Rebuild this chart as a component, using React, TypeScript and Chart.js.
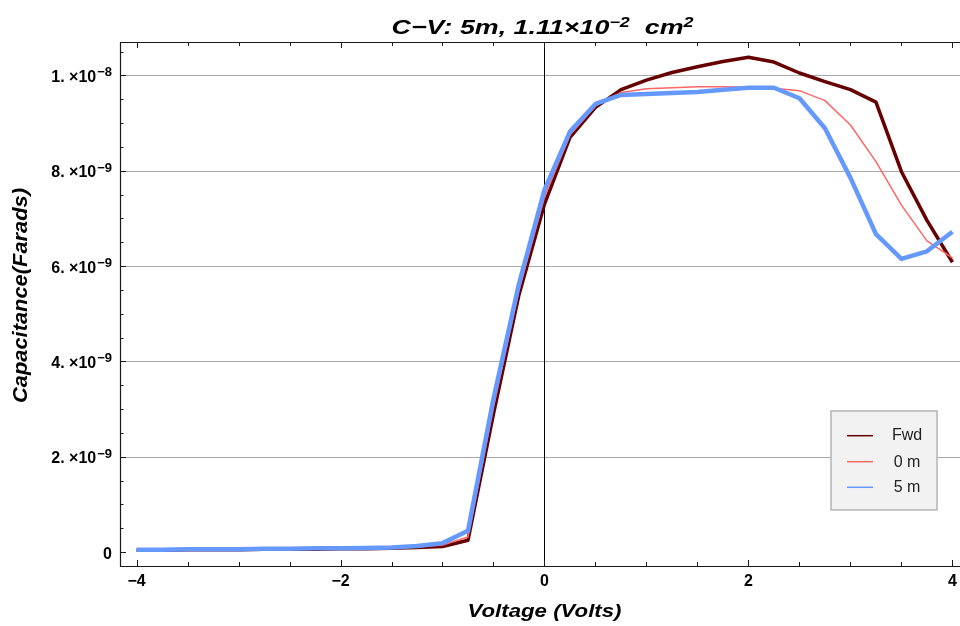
import React, { useEffect, useRef } from "react";
import { Chart, registerables } from "chart.js";

Chart.register(...registerables);

// ---- data (voltage in Volts, capacitance in nanofarads) ----
const voltages = [
  -4, -3.75, -3.5, -3.25, -3, -2.75, -2.5, -2.25, -2, -1.75, -1.5, -1.25, -1,
  -0.75, -0.5, -0.25, 0, 0.25, 0.5, 0.75, 1, 1.25, 1.5, 1.75, 2, 2.25, 2.5,
  2.75, 3, 3.25, 3.5, 3.75, 4,
];
const fwdNF = [
  0.04, 0.04, 0.05, 0.05, 0.05, 0.06, 0.06, 0.06, 0.07, 0.07, 0.08, 0.1, 0.12,
  0.25, 2.9, 5.4, 7.3, 8.7, 9.33, 9.7, 9.9, 10.06, 10.18, 10.29, 10.38, 10.28,
  10.05, 9.87, 9.7, 9.44, 7.98, 6.96, 6.08,
];
const zeroMNF = [
  0.04, 0.04, 0.05, 0.05, 0.05, 0.06, 0.06, 0.07, 0.07, 0.08, 0.09, 0.11, 0.15,
  0.32, 3.05, 5.5, 7.45, 8.75, 9.36, 9.64, 9.72, 9.74, 9.76, 9.76, 9.75, 9.73,
  9.68, 9.47, 8.96, 8.19, 7.28, 6.53, 6.17,
];
const fiveMNF = [
  0.05, 0.05, 0.06, 0.06, 0.06, 0.07, 0.07, 0.08, 0.08, 0.09, 0.1, 0.13, 0.19,
  0.45, 3.22, 5.63, 7.6, 8.82, 9.4, 9.59, 9.61, 9.63, 9.65, 9.7, 9.74, 9.74,
  9.52, 8.89, 7.85, 6.67, 6.15, 6.31, 6.72,
];
const seriesLabels = ["Fwd", "0 m", "5 m"];
const seriesColors = ["#660000", "#ff6666", "#6699ff"];
const seriesWidths = [3.5, 1.5, 4.5];

const xMajorTicks = [-4, -2, 0, 2, 4];
const xTickLabels = ["\u22124", "\u22122", "0", "2", "4"];
const yMajorTicksNF = [0, 2, 4, 6, 8, 10];
const yTickMantissas = ["0", "2. \u00d710", "4. \u00d710", "6. \u00d710", "8. \u00d710", "1. \u00d710"];
const yTickExponents = ["", "\u22129", "\u22129", "\u22129", "\u22129", "\u22128"];
const yGridNF = [2, 4, 6, 8, 10];

const titleBase = "C\u2212V: 5m, 1.11\u00d710";
const titleSup1 = "\u22122";
const titleBase2 = "  cm";
const titleSup2 = "2";
const xTitle = "Voltage (Volts)";
const yTitle = "Capacitance(Farads)";

const FONT = '"Liberation Sans", Arial, Helvetica, sans-serif';
const NF = 1e-9;

function runsWidth(ctx: CanvasRenderingContext2D, runs: { text: string; font: string; dy: number }[]) {
  return runs.map((r) => {
    ctx.font = r.font;
    return ctx.measureText(r.text).width;
  });
}

function drawRuns(
  ctx: CanvasRenderingContext2D,
  runs: { text: string; font: string; dy: number }[],
  cx: number,
  baseline: number,
  targetWidth: number
) {
  const widths = runsWidth(ctx, runs);
  const total = widths.reduce((a, b) => a + b, 0);
  const sx = targetWidth / total;
  ctx.save();
  ctx.translate(cx - (total * sx) / 2, baseline);
  ctx.scale(sx, 1);
  ctx.textAlign = "left";
  ctx.textBaseline = "alphabetic";
  let xx = 0;
  runs.forEach((r, i) => {
    ctx.font = r.font;
    ctx.fillText(r.text, xx, r.dy);
    xx += widths[i];
  });
  ctx.restore();
}

const framePlugin = {
  id: "mmaFrame",
  beforeDatasetsDraw(chart: any) {
    const { ctx, chartArea: a, scales } = chart;
    const x = scales.x;
    const y = scales.y;
    ctx.save();
    ctx.strokeStyle = "#a8a8a8";
    ctx.lineWidth = 1.2;
    yGridNF.forEach((v) => {
      const py = Math.round(y.getPixelForValue(v * NF)) + 0.5;
      ctx.beginPath();
      ctx.moveTo(a.left, py);
      ctx.lineTo(a.right, py);
      ctx.stroke();
    });
    const px0 = Math.round(x.getPixelForValue(0)) + 0.5;
    ctx.strokeStyle = "#000";
    ctx.lineWidth = 1;
    ctx.beginPath();
    ctx.moveTo(px0, a.top);
    ctx.lineTo(px0, a.bottom);
    ctx.stroke();
    ctx.restore();
  },
  afterDraw(chart: any) {
    const { ctx, chartArea: a, scales } = chart;
    const x = scales.x;
    const y = scales.y;
    ctx.save();
    // frame
    ctx.strokeStyle = "#1a1a1a";
    ctx.lineWidth = 1.2;
    ctx.beginPath();
    ctx.moveTo(a.right + 2, a.top + 0.5);
    ctx.lineTo(a.left + 0.5, a.top + 0.5);
    ctx.lineTo(a.left + 0.5, a.bottom + 0.5);
    ctx.lineTo(a.right + 2, a.bottom + 0.5);
    ctx.stroke();

    // x ticks (every 0.5 V, major at labelled values)
    ctx.lineWidth = 1;
    for (let k = -8; k <= 8; k++) {
      const v = k / 2;
      const px = Math.round(x.getPixelForValue(v)) + 0.5;
      const major = xMajorTicks.includes(v);
      const len = major ? 6 : 4;
      ctx.beginPath();
      ctx.moveTo(px, a.bottom);
      ctx.lineTo(px, a.bottom - len);
      ctx.moveTo(px, a.top);
      ctx.lineTo(px, a.top + len);
      ctx.stroke();
    }
    // y ticks (every 0.5 nF)
    for (let k = 0; k <= 21; k++) {
      const v = k / 2;
      const py = Math.round(y.getPixelForValue(v * NF)) + 0.5;
      const major = yMajorTicksNF.includes(v);
      const len = major ? 6 : 3.5;
      ctx.beginPath();
      ctx.moveTo(a.left, py);
      ctx.lineTo(a.left + len, py);
      ctx.stroke();
    }

    // x tick labels
    ctx.fillStyle = "#000";
    ctx.font = `bold 16px ${FONT}`;
    ctx.textAlign = "center";
    ctx.textBaseline = "alphabetic";
    xMajorTicks.forEach((v, i) => {
      ctx.fillText(xTickLabels[i], x.getPixelForValue(v), 586);
    });

    // y tick labels with superscript exponents
    const rightEdge = 112;
    yMajorTicksNF.forEach((v, i) => {
      const py = y.getPixelForValue(v * NF);
      const base = yTickMantissas[i];
      const sup = yTickExponents[i];
      ctx.textAlign = "left";
      ctx.font = `bold 16px ${FONT}`;
      const wb = ctx.measureText(base).width;
      ctx.font = `bold 13px ${FONT}`;
      const ws = sup ? ctx.measureText(sup).width + 1 : 0;
      const start = rightEdge - wb - ws;
      ctx.font = `bold 16px ${FONT}`;
      ctx.fillText(base, start, py + 6.5);
      if (sup) {
        ctx.font = `bold 13px ${FONT}`;
        ctx.fillText(sup, start + wb + 1, py + 1);
      }
    });

    // title
    drawRuns(
      ctx,
      [
        { text: titleBase, font: `italic bold 21px ${FONT}`, dy: 0 },
        { text: titleSup1, font: `italic bold 14px ${FONT}`, dy: -6.5 },
        { text: titleBase2, font: `italic bold 21px ${FONT}`, dy: 0 },
        { text: titleSup2, font: `italic bold 14px ${FONT}`, dy: -6.5 },
      ],
      542.5,
      33.5,
      302
    );

    // x title
    drawRuns(ctx, [{ text: xTitle, font: `italic bold 18px ${FONT}`, dy: 0 }], 544.5, 616.5, 154);

    // y title (rotated)
    ctx.save();
    ctx.translate(27, 295.5);
    ctx.rotate(-Math.PI / 2);
    drawRuns(ctx, [{ text: yTitle, font: `italic bold 20px ${FONT}`, dy: 0 }], 0, 0, 215);
    ctx.restore();

    // legend
    const lx = 831, ly = 411, lw = 106, lh = 99;
    ctx.fillStyle = "#f2f2f2";
    ctx.fillRect(lx, ly, lw, lh);
    ctx.strokeStyle = "#b4b4b4";
    ctx.lineWidth = 1.5;
    ctx.strokeRect(lx, ly, lw, lh);
    const rowY = [435.7, 461.7, 487.3];
    chart.data.datasets.forEach((ds: any, i: number) => {
      ctx.strokeStyle = ds.borderColor;
      ctx.lineWidth = 1.5;
      ctx.beginPath();
      ctx.moveTo(847, rowY[i]);
      ctx.lineTo(873, rowY[i]);
      ctx.stroke();
      ctx.fillStyle = "#222";
      ctx.font = `16px ${FONT}`;
      ctx.textAlign = "center";
      ctx.fillText(ds.label, 907, rowY[i] + 4.5 - (i === 0 ? 0.5 : -0.5));
    });
    ctx.restore();
  },
};

export default function App() {
  const ref = useRef<HTMLCanvasElement>(null);
  useEffect(() => {
    const toPoints = (arr: number[]) => voltages.map((v, i) => ({ x: v, y: arr[i] * NF }));
    const valueSets = [fwdNF, zeroMNF, fiveMNF];
    const chart = new Chart(ref.current as HTMLCanvasElement, {
      type: "line",
      data: {
        datasets: valueSets.map((vals, i) => ({
          label: seriesLabels[i],
          data: toPoints(vals),
          borderColor: seriesColors[i],
          backgroundColor: seriesColors[i],
          borderWidth: seriesWidths[i],
          pointRadius: 0,
          tension: 0,
          fill: false,
          borderJoinStyle: "round" as const,
          order: 3 - i,
        })),
      },
      options: {
        responsive: false,
        maintainAspectRatio: false,
        animation: false,
        devicePixelRatio: 1,
        layout: { padding: { top: 42, left: 0, right: 0, bottom: 0 } },
        plugins: {
          legend: { display: false },
          tooltip: { enabled: false },
          title: { display: false },
        },
        events: [],
        scales: {
          x: {
            type: "linear",
            min: -4.162,
            max: 4.074,
            grid: { display: false },
            border: { display: false },
            ticks: { display: false },
            afterFit: (s: any) => {
              s.height = 60;
            },
          },
          y: {
            type: "linear",
            min: -0.29 * NF,
            max: 10.7 * NF,
            grid: { display: false },
            border: { display: false },
            ticks: { display: false },
            afterFit: (s: any) => {
              s.width = 120;
            },
          },
        },
      } as any,
      plugins: [framePlugin],
    });
    return () => chart.destroy();
  }, []);
  return (
    <div style={{ position: "absolute", left: 0, top: 0, width: 960, height: 626, background: "#fff" }}>
      <canvas ref={ref} width={960} height={626} style={{ display: "block", width: 960, height: 626 }} />
    </div>
  );
}
